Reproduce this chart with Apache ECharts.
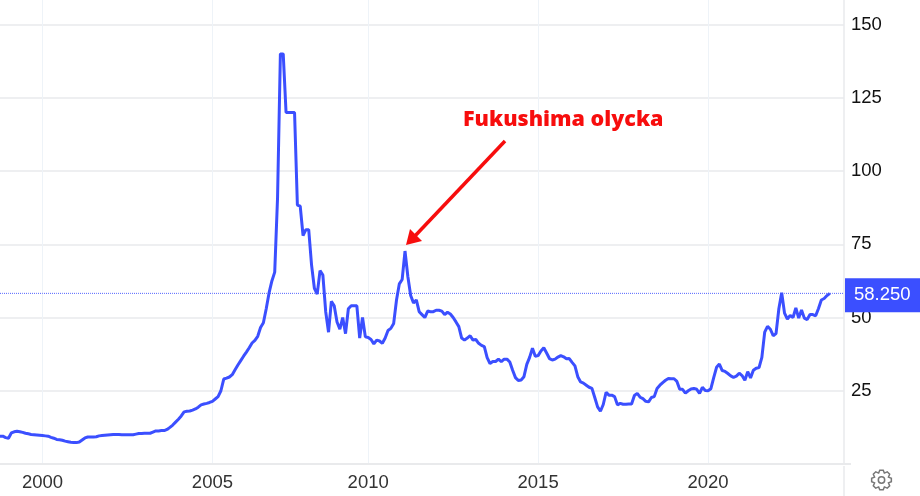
<!DOCTYPE html>
<html>
<head>
<meta charset="utf-8">
<title>Uranium</title>
<script src="https://cdn.jsdelivr.net/npm/echarts@6/dist/echarts.min.js"></script>
<style>
  html, body { margin: 0; padding: 0; background: #fff; }
  #chart { width: 920px; height: 496px; }
</style>
</head>
<body>
<div id="chart"></div>
<script>
// monthly price, starts at 1998-10
const prices = [
  9.5,9.5,9.0,8.8,10.6,11,11.2,11,10.8,10.5,
  10.3,10.1,10,9.9,9.8,9.7,9.6,9.5,9.1,8.8,
  8.4,8.3,8.1,7.8,7.6,7.4,7.3,7.3,7.5,8.2,
  8.9,9.2,9.2,9.2,9.3,9.6,9.7,9.8,9.9,10,
  10.1,10.1,10.1,10,10,10,10,10,10.2,10.4,
  10.4,10.5,10.5,10.5,10.9,11.3,11.3,11.4,11.4,11.8,
  12.5,13.3,14.3,15.3,16.4,17.8,18,18.1,18.4,18.8,
  19.4,20.2,20.5,20.7,21,21.4,22.2,23,25,29,
  29.3,29.7,30.5,32.2,33.8,35.3,36.8,38.2,39.7,41.3,
  42.2,43.6,46.6,48.2,53,58.4,62.5,65.5,91,140,
  140,120,120,120,120,88.4,88,78,80,80,
  68,60,58,66,64.5,52,45,55.5,54,48.5,
  46,50,44.5,53,54,54,54,43,50,43.4,
  43.2,42.5,41,42.3,42,41.2,43,45.6,46.3,48,
  56,61.5,63,72.7,64,57.5,55,56,52,51,
  50,52.2,52,52,52.5,52.5,52.2,51,51.8,51.2,
  50,48.5,46.9,43,42.3,43,43.8,42.3,42.5,41.2,
  40.5,40.1,36.3,34.3,35,35,35.8,34.9,35.8,35.8,
  34.8,32,29.5,28.5,28.7,29.8,34,36.4,39.5,36.8,
  37,38.6,39.7,37.9,36,35.5,35.8,36.5,37,36.6,
  35.9,36,34.7,33.5,29.8,28,27.6,26.9,26.2,25.8,
  22.7,19.5,18,20.3,24.5,23.5,23.5,23,20.2,20.7,
  20.4,20.4,20.5,20.5,23.4,24.1,22.8,22.3,21.4,21.2,
  22.7,23,25.8,26.9,27.8,28.6,29.2,29.1,29.1,28.2,
  25.5,25.5,24.2,25,25.6,25.8,25.5,24.1,26.2,25.1,
  25,25.7,29.5,33,34.1,31.9,31.6,30.9,30.1,29.6,
  30,31,30.2,28.6,31.5,29.4,32,32.7,32.9,36.4,
  45,47,46,43.8,44.5,53,58.5,51.5,49.5,50.7,
  50,53.3,49.8,52.6,49.8,49.3,51,51,50.6,53.1,
  56,56.5,57.5,58.25
];
const lastPrice = 58.25;
const labelYears = [2000, 2005, 2010, 2015, 2020];
const annotation = 'Fukushima olycka';

const blue = '#3b4fff';
const red = '#f70d0d';
const gridColor = '#e9eaec';

// the source skips a few months in 2005-2009, december dropped here
let months = [];
for (let y = 1998; y <= 2024; y++) {
  for (let m = 1; m <= 12; m++) {
    if (y == 1998 && m < 10) continue;
    if (y >= 2005 && y <= 2009 && m == 12) continue;
    if (months.length < 299) months.push(y + '-' + (m < 10 ? '0' + m : m));
  }
}

function isYearTick(index, value) {
  return value.slice(5) == '01' && labelYears.indexOf(+value.slice(0, 4)) >= 0;
}

// settings gear, outline only
function gearPoints(cx, cy, outer, inner, teeth) {
  let pts = [];
  let step = Math.PI * 2 / teeth;
  for (let i = 0; i < teeth; i++) {
    let a = i * step;
    pts.push([cx + inner * Math.cos(a - step * 0.5), cy + inner * Math.sin(a - step * 0.5)]);
    pts.push([cx + outer * Math.cos(a - step * 0.22), cy + outer * Math.sin(a - step * 0.22)]);
    pts.push([cx + outer * Math.cos(a + step * 0.22), cy + outer * Math.sin(a + step * 0.22)]);
  }
  return pts;
}

let myChart = echarts.init(document.getElementById('chart'));

myChart.setOption({
  animation: false,
  backgroundColor: '#fff',
  textStyle: { fontFamily: '"Liberation Sans", Arial, sans-serif' },
  grid: { left: -1.5, top: 0, width: 845.5, height: 464 },
  xAxis: {
    type: 'category',
    data: months,
    boundaryGap: false,
    axisLine: { show: true, lineStyle: { color: gridColor, width: 2 } },
    axisTick: { show: false },
    axisLabel: {
      interval: isYearTick,
      formatter: function (value) { return value.slice(0, 4); },
      color: '#333',
      fontSize: 18.5,
      margin: 9
    },
    splitLine: { show: true, interval: isYearTick, lineStyle: { color: '#eef3f8', width: 1 } }
  },
  yAxis: {
    type: 'value',
    position: 'right',
    min: 0,
    max: 158.4,
    interval: 25,
    axisLine: { show: true, lineStyle: { color: gridColor, width: 1.5 } },
    axisTick: { show: false },
    axisLabel: { showMinLabel: false, showMaxLabel: false, color: '#111', fontSize: 18.5, margin: 7, padding: [2, 0, 0, 0] },
    splitLine: { show: true, showMaxLine: false, lineStyle: { color: gridColor, width: 1.5 } }
  },
  series: [
    {
      type: 'line',
      data: months.map(function () { return lastPrice; }),
      showSymbol: false,
      lineStyle: { color: '#5062ff', type: [1, 1], width: 1 },
      z: 2,
      endLabel: {
        show: true,
        distance: 1,
        offset: [0, 2],
        formatter: lastPrice.toFixed(3),
        color: '#fff',
        fontSize: 18.5,
        backgroundColor: blue,
        padding: [8, 11, 7, 9]
      }
    },
    {
      type: 'line',
      data: prices,
      showSymbol: false,
      itemStyle: { color: blue },
      lineStyle: { color: blue, width: 3 },
      z: 3
    }
  ],
  graphic: [
    { type: 'text', left: 463, top: 109, z: 10, style: { text: annotation, fill: red, font: '800 21.5px "Open Sans", sans-serif' } },
    { type: 'line', z: 10, shape: { x1: 505, y1: 141, x2: 414, y2: 237 }, style: { stroke: red, lineWidth: 3.5 } },
    { type: 'polygon', z: 10, shape: { points: [[406, 245], [410, 229], [422, 241]] }, style: { fill: red } },
    { type: 'line', z: 1, shape: { x1: 844, y1: 466, x2: 844, y2: 496 }, style: { stroke: gridColor, lineWidth: 1.5 } },
    { type: 'line', z: 1, shape: { x1: 844, y1: 464, x2: 851, y2: 464 }, style: { stroke: gridColor, lineWidth: 2 } },
    { type: 'polygon', z: 1, shape: { points: gearPoints(881.5, 480, 10, 7.5, 8) }, style: { fill: 'none', stroke: '#777', lineWidth: 1.5 } },
    { type: 'circle', z: 1, shape: { cx: 881.5, cy: 480, r: 3.2 }, style: { fill: 'none', stroke: '#777', lineWidth: 1.5 } }
  ]
});
</script>
</body>
</html>
